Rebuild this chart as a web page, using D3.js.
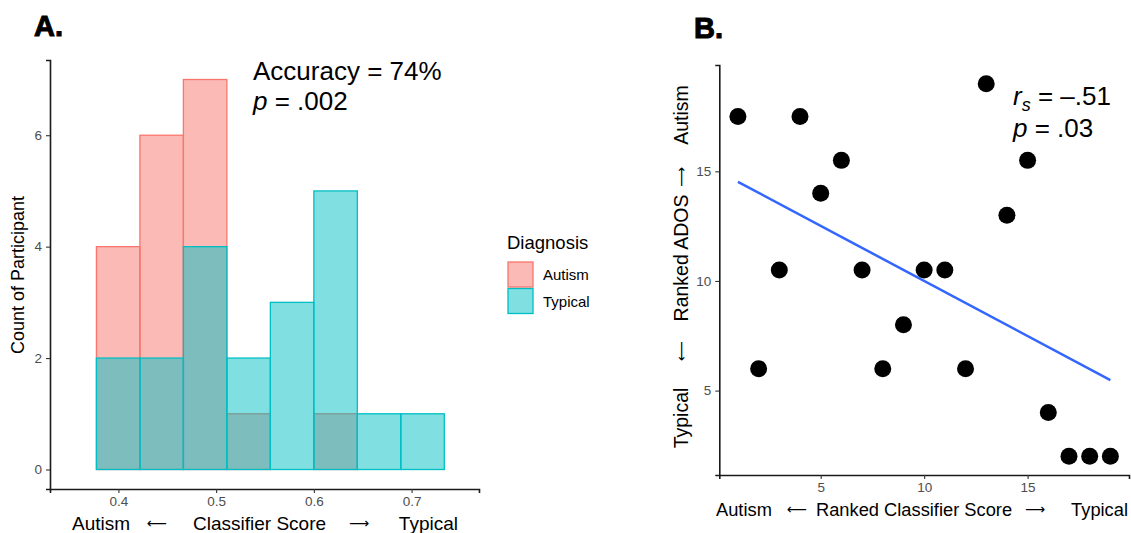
<!DOCTYPE html>
<html>
<head>
<meta charset="utf-8">
<script src="https://cdn.jsdelivr.net/npm/d3@7"></script>
<style>
  html, body { margin: 0; padding: 0; background: #fff; }
  svg { display: block; font-family: "Liberation Sans", Arial, sans-serif; }
  .arrow { font-family: "DejaVu Sans", sans-serif; }
</style>
</head>
<body>
<svg id="chart" width="1131" height="533"></svg>
<script>
// Panel A: histogram of classifier scores
const binEdges = [0.3775, 0.422, 0.4665, 0.511, 0.5555, 0.6, 0.6445, 0.689, 0.7335];
const autismCounts = [4, 6, 7, 1, 0, 1, 0, 0];
const typicalCounts = [2, 2, 4, 2, 3, 5, 1, 1];
const countTicks = [0, 2, 4, 6];
const scoreTicks = [0.4, 0.5, 0.6, 0.7];
const groups = ["Autism", "Typical"];

// Panel B: ranked classifier score vs ranked ADOS
const classifierRank = [1, 2, 3, 4, 5, 6, 7, 8, 9, 10, 11, 12, 13, 14, 15, 16, 17, 18, 19];
const adosRank = [17.5, 6, 10.5, 17.5, 14, 15.5, 10.5, 6, 8, 10.5, 10.5, 6, 19, 13, 15.5, 4, 2, 2, 2];
const rankTicksX = [5, 10, 15];
const rankTicksY = [5, 10, 15];

const colors = { Autism: "#F8766D", Typical: "#00BFC4" };
const svg = d3.select("#chart");

function styleAxis(g) {
    g.selectAll(".domain").attr("stroke", "#1a1a1a").attr("stroke-width", 1.6);
    g.selectAll(".tick line").attr("stroke", "#333").attr("stroke-width", 1.1);
    g.selectAll(".tick text").attr("fill", "#4D4D4D").attr("font-size", 13.5)
        .attr("font-family", "Liberation Sans, Arial, sans-serif");
}

// helper: a title made of word pieces and arrows, each placed by its own anchor
function addPieces(g, pieces, size) {
    pieces.forEach((p) => {
        const t = g.append("text").attr("text-anchor", p.anchor || "start").text(p.t);
        if (p.arrow) t.attr("class", "arrow").attr("font-size", 14);
        else t.attr("font-size", size);
        if (p.rot) t.attr("transform", `translate(${p.x},${p.y}) rotate(-90)`);
        else t.attr("x", p.x).attr("y", p.y);
    });
}

// ---------- Panel A ----------
const xA = d3.scaleLinear().domain([0.33, 0.769]).range([50, 479]);
const yA = d3.scaleLinear().domain([-0.35, 7.35]).range([489, 60]);

const bins = binEdges.slice(0, -1).map((x0, i) => ({
    x0, x1: binEdges[i + 1], Autism: autismCounts[i], Typical: typicalCounts[i]
}));

const histo = svg.append("g");
groups.forEach((grp) => {
    histo.append("g").selectAll("rect")
        .data(bins.filter((d) => d[grp] > 0))
        .join("rect")
        .attr("x", (d) => xA(d.x0))
        .attr("width", (d) => xA(d.x1) - xA(d.x0))
        .attr("y", (d) => yA(d[grp]))
        .attr("height", (d) => yA(0) - yA(d[grp]))
        .attr("fill", colors[grp])
        .attr("fill-opacity", 0.5)
        .attr("stroke", colors[grp])
        .attr("stroke-width", 1.3);
});

svg.append("g").attr("transform", `translate(50,0)`)
    .call(d3.axisLeft(yA).tickValues(countTicks).tickSizeOuter(0).tickSize(4).tickPadding(4))
    .call(styleAxis);
svg.append("g").attr("transform", `translate(0,489)`)
    .call(d3.axisBottom(xA).tickValues(scoreTicks).tickFormat(d3.format(".1f")).tickSizeOuter(0).tickSize(4).tickPadding(3))
    .call(styleAxis);

svg.append("text").attr("x", 34).attr("y", 36).attr("font-size", 29).attr("font-weight", 900)
    .attr("stroke", "#000").attr("stroke-width", 1).text("A.");

svg.append("text").attr("x", 253).attr("y", 80).attr("font-size", 26).text("Accuracy = 74%");
const pA = svg.append("text").attr("x", 253).attr("y", 110).attr("font-size", 26);
pA.append("tspan").attr("font-style", "italic").text("p");
pA.append("tspan").text(" = .002");

svg.append("text").attr("transform", "translate(24,275) rotate(-90)")
    .attr("text-anchor", "middle").attr("font-size", 18).text("Count of Participant");

addPieces(svg.append("g"), [
    { t: "Autism", x: 72, y: 530 },
    { t: "\u27F5", x: 157, y: 528, anchor: "middle", arrow: true },
    { t: "Classifier Score", x: 193, y: 530 },
    { t: "\u27F6", x: 359, y: 528, anchor: "middle", arrow: true },
    { t: "Typical", x: 458, y: 530, anchor: "end" }
], 19);

// legend
const legend = svg.append("g").attr("transform", "translate(507,0)");
legend.append("text").attr("x", 0).attr("y", 249).attr("font-size", 18.5).text("Diagnosis");
groups.forEach((grp, i) => {
    legend.append("rect").attr("x", 1).attr("y", 262 + i * 26.5).attr("width", 25).attr("height", 25)
        .attr("fill", colors[grp]).attr("fill-opacity", 0.5)
        .attr("stroke", colors[grp]).attr("stroke-width", 1.3);
    legend.append("text").attr("x", 36).attr("y", 275 + i * 26.5).attr("dy", "0.35em")
        .attr("font-size", 15).text(grp);
});

// ---------- Panel B ----------
const xB = d3.scaleLinear().domain([0.1, 19.9]).range([719.3, 1129]);
const yB = d3.scaleLinear().domain([1.15, 19.85]).range([475, 65]);

svg.append("g").attr("transform", `translate(719.3,0)`)
    .call(d3.axisLeft(yB).tickValues(rankTicksY).tickSizeOuter(0).tickSize(4).tickPadding(4))
    .call(styleAxis);
svg.append("g").attr("transform", `translate(0,475)`)
    .call(d3.axisBottom(xB).tickValues(rankTicksX).tickSizeOuter(0).tickSize(4).tickPadding(3))
    .call(styleAxis);

// least squares fit line
const points = classifierRank.map((x, i) => ({ x, y: adosRank[i] }));
const mx = d3.mean(points, (d) => d.x);
const my = d3.mean(points, (d) => d.y);
const slope = d3.sum(points, (d) => (d.x - mx) * (d.y - my)) / d3.sum(points, (d) => (d.x - mx) ** 2);
const intercept = my - slope * mx;
const fit = d3.extent(classifierRank).map((x) => ({ x, y: intercept + slope * x }));

svg.append("path").datum(fit)
    .attr("d", d3.line().x((d) => xB(d.x)).y((d) => yB(d.y)))
    .attr("stroke", "#3366FF").attr("stroke-width", 2.5).attr("fill", "none");

svg.append("g").selectAll("circle").data(points).join("circle")
    .attr("cx", (d) => xB(d.x)).attr("cy", (d) => yB(d.y)).attr("r", 8.5).attr("fill", "#000");

svg.append("text").attr("x", 694).attr("y", 38).attr("font-size", 29).attr("font-weight", 900)
    .attr("stroke", "#000").attr("stroke-width", 1).text("B.");

const rs = svg.append("text").attr("x", 1013).attr("y", 105).attr("font-size", 26);
rs.append("tspan").attr("font-style", "italic").text("r");
rs.append("tspan").attr("font-style", "italic").attr("font-size", 18).attr("dy", 6).text("s");
rs.append("tspan").attr("dy", -6).text(" = \u2013.51");
const pB = svg.append("text").attr("x", 1013).attr("y", 137).attr("font-size", 26);
pB.append("tspan").attr("font-style", "italic").text("p");
pB.append("tspan").text(" = .03");

addPieces(svg.append("g"), [
    { t: "Autism", x: 716, y: 516 },
    { t: "\u27F5", x: 797, y: 514, anchor: "middle", arrow: true },
    { t: "Ranked Classifier Score", x: 816, y: 516 },
    { t: "\u27F6", x: 1035, y: 514, anchor: "middle", arrow: true },
    { t: "Typical", x: 1128, y: 516, anchor: "end" }
], 18.3);

// rotated y title for panel B
addPieces(svg.append("g"), [
    { t: "Typical", x: 688, y: 418, anchor: "middle", rot: true },
    { t: "\u27F5", x: 686, y: 351, anchor: "middle", rot: true, arrow: true },
    { t: "Ranked ADOS", x: 688, y: 258, anchor: "middle", rot: true },
    { t: "\u27F6", x: 686, y: 177, anchor: "middle", rot: true, arrow: true },
    { t: "Autism", x: 688, y: 115, anchor: "middle", rot: true }
], 19.5);
</script>
</body>
</html>
